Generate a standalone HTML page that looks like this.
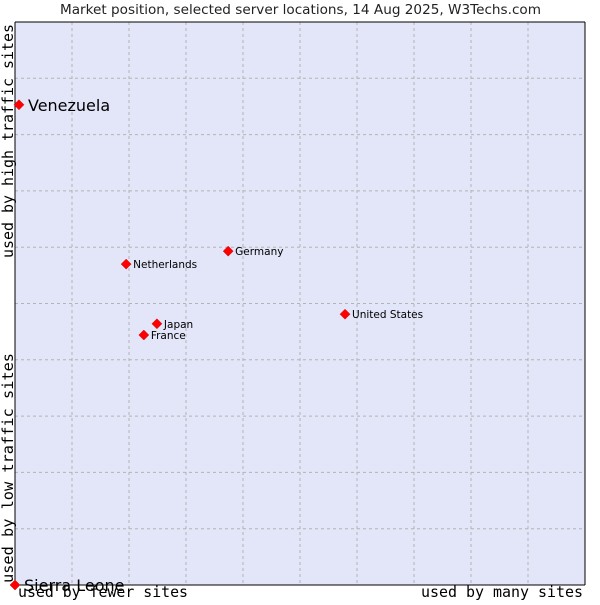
<!DOCTYPE html>
<html><head><meta charset="utf-8"><style>
body{margin:0;background:#fff}
svg text{font-family:"DejaVu Sans","Liberation Sans",sans-serif}
.mono{font-family:"DejaVu Sans Mono","Liberation Mono",monospace;font-size:15px;fill:#000}
</style></head><body>
<svg id="c" width="600" height="600" xmlns="http://www.w3.org/2000/svg">
<text x="60" y="14" font-size="13" fill="#222" textLength="481" lengthAdjust="spacingAndGlyphs">Market position, selected server locations, 14 Aug 2025, W3Techs.com</text>
<rect x="15" y="22" width="570" height="563" fill="#e3e5f8"/>
<g id="grid"></g>
<line x1="15" y1="22" x2="15" y2="585" stroke="#000"/>
<line x1="15" y1="22" x2="585" y2="22" stroke="#000"/>
<line x1="585" y1="22" x2="585" y2="585" stroke="#000"/>
<line x1="15" y1="585" x2="585" y2="585" stroke="#000"/>
<g id="pts"></g>
<text class="mono" x="18" y="597" textLength="170" lengthAdjust="spacingAndGlyphs">used by fewer sites</text>
<text class="mono" x="421" y="597" textLength="162" lengthAdjust="spacingAndGlyphs">used by many sites</text>
<text class="mono" transform="translate(13,583) rotate(-90)" textLength="230" lengthAdjust="spacingAndGlyphs">used by low traffic sites</text>
<text class="mono" transform="translate(13,258) rotate(-90)" textLength="234" lengthAdjust="spacingAndGlyphs">used by high traffic sites</text>
</svg>
<script>
const names=["Venezuela","Netherlands","Germany","United States","Japan","France","Sierra Leone"];
const xVals=[0.7,19.5,37.4,57.9,24.9,22.6,0];
const yVals=[85.3,57.0,59.3,48.1,46.4,44.4,0];
const big=[true,false,false,false,false,false,true];
const ns="http://www.w3.org/2000/svg";
const X=v=>15+v*5.7, Y=v=>585-v*5.63;
const g=document.getElementById('grid');
for(let i=1;i<10;i++){
 const a=document.createElementNS(ns,'line');
 a.setAttribute('x1',X(i*10));a.setAttribute('x2',X(i*10));a.setAttribute('y1',22);a.setAttribute('y2',585);
 a.setAttribute('stroke','#b4b4b4');a.setAttribute('stroke-dasharray','3,3');
 
 
 g.appendChild(a);
 const b=document.createElementNS(ns,'line');
 b.setAttribute('y1',Y(i*10));b.setAttribute('y2',Y(i*10));b.setAttribute('x1',15);b.setAttribute('x2',585);
 b.setAttribute('stroke','#b4b4b4');b.setAttribute('stroke-dasharray','3,3');
 
 
 g.appendChild(b);
}
const p=document.getElementById('pts');
names.forEach((n,i)=>{
 const cx=X(xVals[i]),cy=Y(yVals[i]);
 const d=document.createElementNS(ns,'path');
 d.setAttribute('d',`M${cx-5},${cy} L${cx},${cy-5} L${cx+5},${cy} L${cx},${cy+5} Z`);
 d.setAttribute('fill','#f00');
 d.setAttribute('stroke','#c00');d.setAttribute('stroke-width','0.5');
 
 
 p.appendChild(d);
 const t=document.createElementNS(ns,'text');
 t.setAttribute('x',cx+(big[i]?9:7));t.setAttribute('y',cy+(big[i]?6:4));
 t.setAttribute('font-size',big[i]?16:10.5);t.setAttribute('fill','#000');
 t.textContent=n;
 
 
 p.appendChild(t);
});
</script>
</body></html>
